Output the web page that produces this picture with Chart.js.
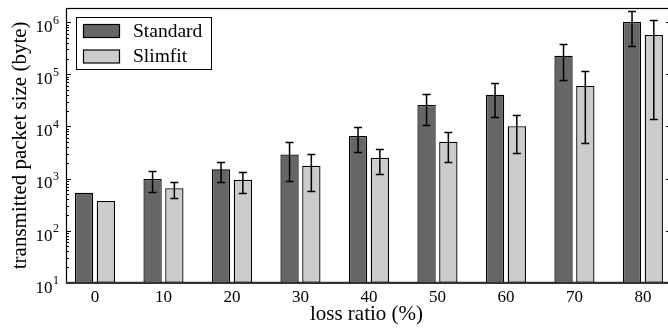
<!DOCTYPE html>
<html>
<head>
<meta charset="utf-8">
<script src="https://cdn.jsdelivr.net/npm/chart.js@4.4.1/dist/chart.umd.min.js"></script>
<style>
  html, body { margin: 0; padding: 0; background: #fff; overflow: hidden; }
  #wrap { width: 672px; height: 329px; }
</style>
</head>
<body>
<div id="wrap"><canvas id="chart" width="672" height="329"></canvas></div>
<script>
// loss ratio (%) on the x axis
const lossRatio = [0, 10, 20, 30, 40, 50, 60, 70, 80];

// transmitted packet size (byte)
const standard     = [533, 977, 1500, 2900, 6550, 25800, 40600, 227000, 1010000];
const standardLow  = [533, 543, 869, 895, 3270, 10500, 15100, 76700, 354000];
const standardHigh = [533, 1390, 2080, 4950, 9730, 41300, 67200, 382000, 1660000];

const slimfit      = [370, 649, 948, 1760, 2510, 5080, 10050, 59600, 568000];
const slimfitLow   = [370, 428, 533, 583, 1240, 2100, 3080, 4740, 13700];
const slimfitHigh  = [370, 845, 1330, 2990, 3730, 7900, 16800, 114000, 1100000];

const seriesNames = ['Standard', 'Slimfit'];
const yDecades = [1, 2, 3, 4, 5, 6];

const FONT = '"Liberation Serif", "Times New Roman", serif';
const DARK = '#666666';
const LIGHT = '#cccccc';

// error bars, drawn through the y scale
const errBars = {
  id: 'errBars',
  afterDatasetsDraw(chart) {
    const ctx = chart.ctx, y = chart.scales.y;
    const sets = [[standardLow, standardHigh], [slimfitLow, slimfitHigh]];
    ctx.save();
    ctx.strokeStyle = '#000';
    ctx.lineWidth = 1.5;
    sets.forEach(([lo, hi], i) => {
      chart.getDatasetMeta(i).data.forEach((bar, j) => {
        if (lo[j] === hi[j]) return;
        const yl = Math.round(y.getPixelForValue(lo[j])) + 0.5;
        const yh = Math.round(y.getPixelForValue(hi[j])) + 0.5;
        const x = bar.x;
        ctx.beginPath();
        ctx.moveTo(x, yl); ctx.lineTo(x, yh);
        ctx.moveTo(x - 4, yl); ctx.lineTo(x + 4, yl);
        ctx.moveTo(x - 4, yh); ctx.lineTo(x + 4, yh);
        ctx.stroke();
      });
    });
    ctx.restore();
  }
};

// matplotlib-like frame, inward log ticks, 10^n labels, titles and legend
const frame = {
  id: 'frame',
  afterDraw(chart) {
    const ctx = chart.ctx, a = chart.chartArea, y = chart.scales.y;
    ctx.save();

    // spines
    ctx.strokeStyle = '#000';
    ctx.lineWidth = 1.2;
    ctx.strokeRect(a.left + 0.5, a.top + 0.5, a.right - a.left - 1, a.bottom - a.top);
    ctx.strokeStyle = '#333';
    ctx.lineWidth = 2;
    ctx.beginPath();
    ctx.moveTo(a.left, a.bottom); ctx.lineTo(a.right, a.bottom);
    ctx.stroke();

    // y ticks, both sides
    ctx.strokeStyle = '#000';
    ctx.lineWidth = 1;
    const tick = (v, len) => {
      const py = Math.round(y.getPixelForValue(v)) + 0.5;
      ctx.beginPath();
      ctx.moveTo(a.left, py); ctx.lineTo(a.left + len, py);
      ctx.moveTo(a.right, py); ctx.lineTo(a.right - len, py);
      ctx.stroke();
    };
    yDecades.forEach(e => {
      const base = Math.pow(10, e);
      if (e > 1) tick(base, 5);
      for (let k = 2; k <= 9; k++) {
        if (k * base < y.max) tick(k * base, 3);
      }
    });

    // y tick labels 10^n
    ctx.fillStyle = '#000';
    ctx.textBaseline = 'middle';
    yDecades.forEach(e => {
      const py = y.getPixelForValue(Math.pow(10, e));
      ctx.font = '12px ' + FONT;
      ctx.textAlign = 'left';
      ctx.fillText(String(e), 53, py - 1.5);
      ctx.font = '17px ' + FONT;
      ctx.textAlign = 'right';
      ctx.fillText('10', 52.5, py + 5.5);
    });

    // axis titles
    ctx.font = '21px ' + FONT;
    ctx.textAlign = 'center';
    ctx.fillText('loss ratio (%)', (a.left + a.right) / 2 - 2, 314);
    ctx.save();
    ctx.translate(20, (a.top + a.bottom) / 2);
    ctx.rotate(-Math.PI / 2);
    ctx.fillText('transmitted packet size (byte)', 0, 0);
    ctx.restore();

    // legend
    const lx = a.left + 10, ly = a.top + 9;
    ctx.fillStyle = '#fff';
    ctx.fillRect(lx, ly, 136, 53);
    ctx.strokeStyle = '#000';
    ctx.lineWidth = 1;
    ctx.strokeRect(lx + 0.5, ly + 0.5, 135, 52);
    [DARK, LIGHT].forEach((c, i) => {
      const ry = ly + 7.5 + i * 25.5;
      ctx.fillStyle = c;
      ctx.fillRect(lx + 7.5, ry, 36, 13);
      ctx.strokeStyle = '#000';
      ctx.lineWidth = 1.2;
      ctx.strokeRect(lx + 7.5, ry, 36, 13);
      ctx.fillStyle = '#000';
      ctx.font = '19.5px ' + FONT;
      ctx.textAlign = 'left';
      ctx.textBaseline = 'middle';
      ctx.fillText(chart.data.datasets[i].label, lx + 57, ry + 7);
    });

    ctx.restore();
  }
};

new Chart(document.getElementById('chart').getContext('2d'), {
  type: 'bar',
  data: {
    datasets: [
      {
        label: seriesNames[0],
        data: lossRatio.map((x, i) => ({ x, y: standard[i] })),
        backgroundColor: DARK, borderColor: '#000', borderWidth: 1.3, borderSkipped: false
      },
      {
        label: seriesNames[1],
        data: lossRatio.map((x, i) => ({ x, y: slimfit[i] })),
        backgroundColor: LIGHT, borderColor: '#000', borderWidth: 1.3, borderSkipped: false
      }
    ]
  },
  options: {
    responsive: false,
    animation: false,
    categoryPercentage: 0.636,
    barPercentage: 0.84,
    layout: { padding: { top: 8, right: 1, left: 0, bottom: 0 } },
    plugins: { legend: { display: false }, tooltip: { enabled: false } },
    scales: {
      x: {
        type: 'linear',
        offset: false,
        min: -4.23,
        max: 84.1,
        grid: { display: false, drawTicks: false, offset: false },
        border: { display: false },
        ticks: {
          stepSize: 10,
          includeBounds: false,
          padding: 5,
          color: '#000',
          font: { family: FONT, size: 17 },
          maxRotation: 0,
          callback: v => (v >= 0 && v <= 80 ? String(v) : '')
        },
        afterFit: s => { s.height = 46.3; }
      },
      y: {
        type: 'logarithmic',
        min: 10,
        max: 1875000,
        grid: { display: false },
        border: { display: false },
        ticks: { display: false },
        afterFit: s => { s.width = 66; }
      }
    }
  },
  plugins: [errBars, frame]
});
</script>
</body>
</html>
